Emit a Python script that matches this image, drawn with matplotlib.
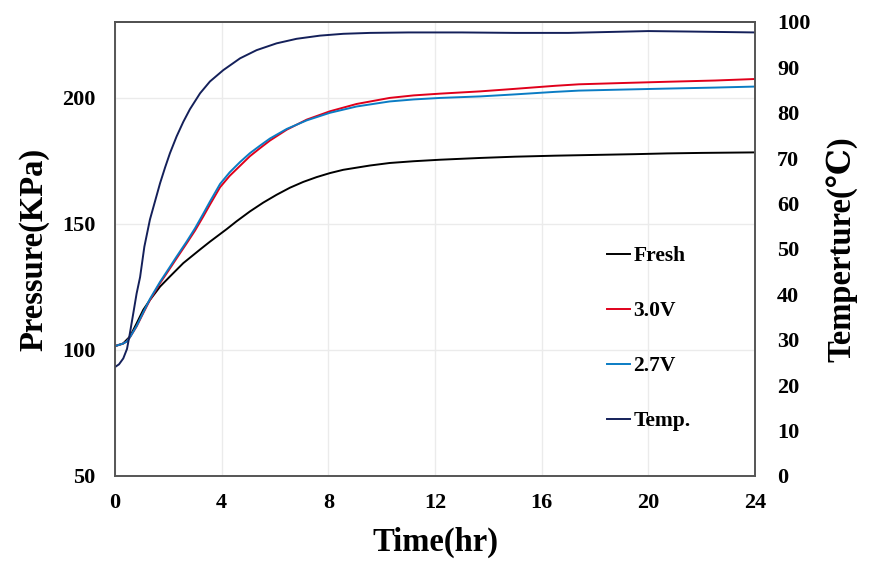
import matplotlib
matplotlib.use("Agg")
import matplotlib.pyplot as plt

# ---- data ----
t_fresh = [0, 0.3, 0.56, 0.81, 1.06, 1.31, 1.69, 2.06, 2.56, 3.19, 3.56, 4.19, 4.56, 5.06,
           5.56, 6.06, 6.56, 7.06, 7.56, 8.06, 8.56, 9.56, 10.3, 11.2, 12.2, 13.7, 15.0,
           16.5, 18.0, 19.5, 20.7, 22.0, 24]
p_fresh = [101.5, 102.5, 105.3, 110.5, 115.9, 119.8, 125.1, 129.1, 134.4, 139.8, 142.9, 147.9,
           151.0, 154.9, 158.4, 161.5, 164.3, 166.6, 168.5, 170.1, 171.4, 173.1, 174.1, 174.8,
           175.4, 176.1, 176.6, 177.0, 177.3, 177.6, 177.9, 178.1, 178.3]

t_30 = [0, 0.3, 0.44, 0.56, 0.81, 1.06, 1.31, 1.69, 1.94, 2.31, 2.69, 3.0, 3.31, 3.56, 3.94,
        4.3, 4.69, 5.06, 5.44, 5.81, 6.44, 7.19, 8.06, 9.06, 10.3, 11.2, 12.2, 13.7, 15.0,
        16.5, 17.4, 19.0, 20.7, 22.5, 24]
p_30 = [101.5, 102.5, 103.3, 105.0, 109.3, 114.6, 119.8, 126.5, 130.4, 136.3, 142.3, 147.3,
        152.9, 157.6, 164.5, 169.0, 173.0, 176.8, 180.0, 183.0, 187.3, 191.3, 194.6, 197.5,
        199.9, 200.9, 201.6, 202.5, 203.5, 204.7, 205.3, 205.8, 206.3, 206.8, 207.4]

t_27 = [0, 0.3, 0.44, 0.56, 0.81, 1.06, 1.31, 1.69, 1.94, 2.31, 2.69, 3.0, 3.31, 3.56, 3.94,
        4.3, 4.69, 5.06, 5.44, 5.81, 6.44, 7.19, 8.06, 9.06, 10.3, 11.2, 12.2, 13.7, 15.0,
        16.5, 17.4, 19.0, 20.7, 22.5, 24]
p_27 = [101.5, 102.5, 103.3, 105.0, 109.5, 114.9, 120.2, 127.0, 131.0, 137.0, 143.0, 148.2,
        154.0, 158.8, 165.8, 170.4, 174.5, 178.0, 181.0, 183.8, 187.6, 191.0, 194.0, 196.5,
        198.5, 199.3, 199.9, 200.5, 201.3, 202.3, 202.8, 203.2, 203.6, 204.0, 204.4]

t_temp = [0, 0.15, 0.31, 0.45, 0.56, 0.69, 0.81, 0.94, 1.1, 1.31, 1.5, 1.69, 1.88, 2.06, 2.31,
          2.56, 2.81, 3.19, 3.56, 4.06, 4.69, 5.31, 6.06, 6.81, 7.69, 8.56, 9.56, 11, 13, 15,
          17, 18.5, 20, 21.5, 24]
temp = [24.0, 24.6, 25.9, 28.0, 31.5, 36.0, 40.2, 43.8, 50.5, 56.5, 60.5, 64.5, 68.0, 71.1, 74.8,
        78.0, 80.8, 84.3, 86.9, 89.4, 92.0, 93.8, 95.3, 96.3, 97.0, 97.4, 97.6, 97.7, 97.7,
        97.6, 97.6, 97.8, 98.0, 97.9, 97.7]

labels = ["Fresh", "3.0V", "2.7V", "Temp."]
x_ticks = [0, 4, 8, 12, 16, 20, 24]
p_ticks = [50, 100, 150, 200]
t_ticks = list(range(0, 101, 10))

serif = ["Liberation Serif", "DejaVu Serif"]
plt.rcParams["font.family"] = serif
plt.rcParams["font.weight"] = "bold"

fig = plt.figure(figsize=(8.72, 5.67), dpi=100)
ax = fig.add_axes([0.1319, 0.1605, 0.7339, 0.8007])
ax2 = ax.twinx()

lw = 1.4
l1, = ax.plot(t_fresh, p_fresh, color="#000000", lw=lw, label=labels[0])
l2, = ax.plot(t_30, p_30, color="#E0001B", lw=lw, label=labels[1])
l3, = ax.plot(t_27, p_27, color="#0A7CC4", lw=lw, label=labels[2])
l4, = ax2.plot(t_temp, temp, color="#14205A", lw=lw, label=labels[3])

ax.set_xlim(0, 24)
ax.set_ylim(50, 230)
ax2.set_ylim(0, 100)
ax.set_xticks(x_ticks)
ax.set_yticks(p_ticks)
ax2.set_yticks(t_ticks)

ax.grid(True, color="#EBEBEB", lw=1.0)
ax.set_axisbelow(True)

ax.tick_params(axis="both", length=0, labelsize=16)
ax.tick_params(axis="y", pad=14)
ax.tick_params(axis="x", pad=12)
ax2.tick_params(axis="y", length=0, labelsize=16, pad=16)
for lab in ax.get_xticklabels() + ax.get_yticklabels() + ax2.get_yticklabels():
    lab.set_fontweight("bold")

for a in (ax, ax2):
    for s in a.spines.values():
        s.set_color("#555555")
        s.set_linewidth(1.2)
ax.spines["top"].set_color("#222222")

ax.set_xlabel("Time(hr)", fontsize=23.5, fontweight="bold", labelpad=10)
ax.set_ylabel("Pressure(KPa)", fontsize=23.5, fontweight="bold", labelpad=9)
ax2.set_ylabel("Temperture(℃)", fontsize=23.5, fontweight="bold", labelpad=11)

leg = ax.legend(handles=[l1, l2, l3, l4], loc="upper left",
                bbox_to_anchor=(0.769, 0.506), frameon=False,
                borderaxespad=0, borderpad=0,
                prop={"family": serif, "weight": "bold", "size": 15.5},
                handlelength=1.07, handletextpad=0.15, labelspacing=1.62)

fig.savefig("out.png", dpi=100)
